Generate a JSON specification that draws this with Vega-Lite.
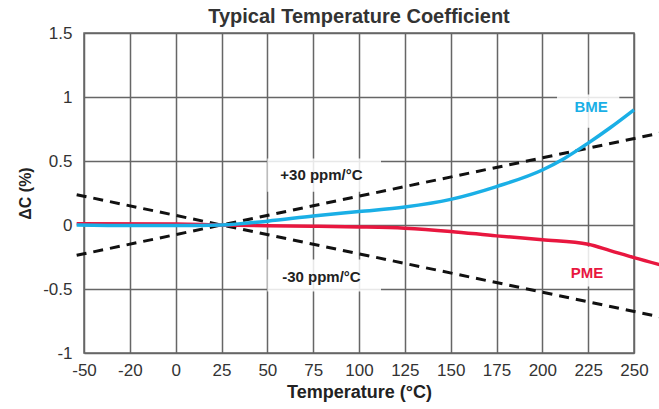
{
  "$schema": "https://vega.github.io/schema/vega-lite/v6.json",
  "width": 550,
  "height": 320,
  "autosize": {"type": "none"},
  "padding": {"left": 84, "top": 33, "right": 25, "bottom": 56},
  "background": "white",
  "title": {"text": "Typical Temperature Coefficient", "fontSize": 20, "fontWeight": "bold", "color": "#333", "anchor": "middle", "offset": -3, "font": "Liberation Sans"},
  "config": {
    "view": {"stroke": "#666", "strokeWidth": 1.5},
    "font": "Liberation Sans",
    "axis": {"grid": true, "gridColor": "#666", "gridWidth": 1.5, "gridOpacity": 1, "ticks": false, "domain": false, "labelFlush": false, "labelFontSize": 17, "labelColor": "#333", "titleFontSize": 17, "titleFontWeight": "bold", "titleColor": "#222"}
  },
  "resolve": {"scale": {"color": "independent"}},
  "datasets": {
    "curves": [
      {"series": "PME", "t": -54, "v": 0.01},
      {"series": "PME", "t": 0, "v": 0.008},
      {"series": "PME", "t": 25, "v": 0.0},
      {"series": "PME", "t": 50, "v": -0.005},
      {"series": "PME", "t": 75, "v": -0.01},
      {"series": "PME", "t": 100, "v": -0.015},
      {"series": "PME", "t": 125, "v": -0.025},
      {"series": "PME", "t": 150, "v": -0.05},
      {"series": "PME", "t": 175, "v": -0.085},
      {"series": "PME", "t": 200, "v": -0.115},
      {"series": "PME", "t": 225, "v": -0.15},
      {"series": "PME", "t": 237, "v": -0.2},
      {"series": "PME", "t": 250, "v": -0.255},
      {"series": "PME", "t": 264, "v": -0.31},
      {"series": "BME", "t": -54, "v": 0.0},
      {"series": "BME", "t": -25, "v": -0.004},
      {"series": "BME", "t": 0, "v": -0.004},
      {"series": "BME", "t": 25, "v": 0.0},
      {"series": "BME", "t": 50, "v": 0.03},
      {"series": "BME", "t": 75, "v": 0.07},
      {"series": "BME", "t": 100, "v": 0.105},
      {"series": "BME", "t": 125, "v": 0.14},
      {"series": "BME", "t": 150, "v": 0.2},
      {"series": "BME", "t": 175, "v": 0.3},
      {"series": "BME", "t": 200, "v": 0.43},
      {"series": "BME", "t": 212, "v": 0.52},
      {"series": "BME", "t": 225, "v": 0.64},
      {"series": "BME", "t": 237, "v": 0.76},
      {"series": "BME", "t": 250, "v": 0.9}
    ],
    "ppm": [
      {"line": "+30 ppm/°C", "t": -54, "v": -0.237},
      {"line": "+30 ppm/°C", "t": 264, "v": 0.717},
      {"line": "-30 ppm/°C", "t": -54, "v": 0.237},
      {"line": "-30 ppm/°C", "t": 264, "v": -0.717}
    ],
    "boxes": [
      {"label": "+30 ppm/°C", "t": 50, "t2": 112, "v": 0.52, "v2": 0.26},
      {"label": "-30 ppm/°C", "t": 50, "t2": 112, "v": -0.27, "v2": -0.52},
      {"label": "BME", "t": 208, "t2": 242, "v": 1.02, "v2": 0.76},
      {"label": "PME", "t": 208, "t2": 242, "v": -0.17, "v2": -0.48}
    ],
    "labels": [
      {"label": "+30 ppm/°C", "t": 79.5, "v": 0.39, "kind": "ppm"},
      {"label": "-30 ppm/°C", "t": 79.5, "v": -0.406, "kind": "ppm"},
      {"label": "BME", "t": 226.6, "v": 0.92, "kind": "BME"},
      {"label": "PME", "t": 224.4, "v": -0.375, "kind": "PME"}
    ]
  },
  "encoding": {
    "x": {"field": "t", "type": "quantitative",
      "scale": {"domain": [-50, 250], "nice": false, "zero": false},
      "axis": {"values": [-50, -25, 0, 25, 50, 75, 100, 125, 150, 175, 200, 225, 250], "labelExpr": "datum.value == -25 ? '-20' : '' + datum.value", "labelPadding": 9, "labelOverlap": false, "title": "Temperature (°C)", "titlePadding": 5, "titleFontSize": 18}},
    "y": {"field": "v", "type": "quantitative",
      "scale": {"domain": [-1, 1.5], "nice": false, "zero": false},
      "axis": {"values": [-1, -0.5, 0, 0.5, 1, 1.5], "labelExpr": "'' + datum.value", "labelPadding": 12, "title": "ΔC (%)", "titlePadding": 9, "titleFontSize": 16}}
  },
  "layer": [
    {
      "data": {"name": "boxes"},
      "mark": {"type": "rect", "fill": "white", "opacity": 0.85},
      "encoding": {"x2": {"field": "t2"}, "y2": {"field": "v2"}}
    },
    {
      "data": {"name": "ppm"},
      "mark": {"type": "line", "color": "#111", "strokeWidth": 3, "strokeDash": [10, 7]},
      "encoding": {"detail": {"field": "line"}}
    },
    {
      "data": {"name": "curves"},
      "mark": {"type": "line", "strokeWidth": 3.5, "interpolate": "monotone"},
      "encoding": {
        "color": {"field": "series", "type": "nominal", "scale": {"domain": ["PME", "BME"], "range": ["#E8173F", "#1AAFE6"]}, "legend": null}
      }
    },
    {
      "data": {"name": "labels"},
      "mark": {"type": "text", "fontSize": 15, "fontWeight": "bold", "align": "center", "baseline": "middle"},
      "encoding": {
        "text": {"field": "label"},
        "color": {"field": "kind", "type": "nominal", "scale": {"domain": ["ppm", "BME", "PME"], "range": ["#222", "#1AAFE6", "#E8173F"]}, "legend": null}
      }
    }
  ]
}
